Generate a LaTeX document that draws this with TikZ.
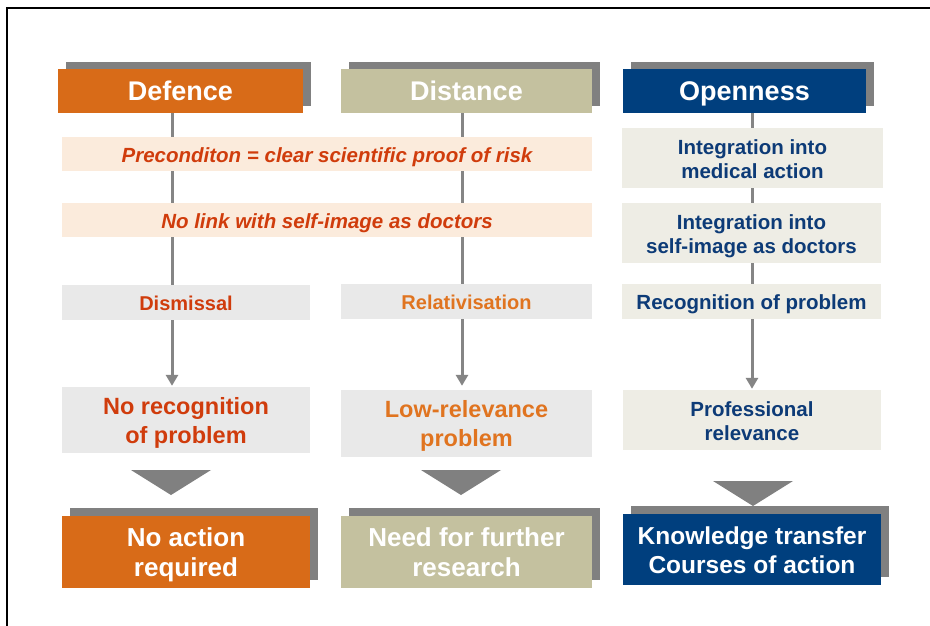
\documentclass[tikz,border=0pt]{standalone}
\usepackage{fontspec}
\setmainfont{Liberation Sans}
\usetikzlibrary{arrows.meta,calc,backgrounds}
\definecolor{cOr}{HTML}{D86B18}
\definecolor{cBe}{HTML}{C4C19F}
\definecolor{cBl}{HTML}{003F7E}
\definecolor{shgray}{HTML}{808080}
\definecolor{lngray}{HTML}{858585}
\definecolor{barOr}{HTML}{FBEBDC}
\definecolor{boxGr}{HTML}{E9E9E9}
\definecolor{boxBe}{HTML}{EEEDE5}
\definecolor{tRed}{HTML}{D03C0C}
\definecolor{tOr}{HTML}{E07420}
\definecolor{tBl}{HTML}{0D3B77}
% first-line strut (fixed height above baseline) and last-line depth strut
\newcommand\fl{\rule[-0.21em]{0pt}{\dimexpr0.94em+5.5pt\relax}}
\newcommand\ld{\rule[-0.21em]{0pt}{0.21em}}
\tikzset{
  hdbox/.style={inner sep=0pt, text=white, align=center, minimum height=44pt, font=\bfseries\fontsize{27}{30}\selectfont},
  endbox/.style={inner sep=0pt, text=white, align=center, font=\bfseries\fontsize{26}{30}\selectfont},
  barbox/.style={inner sep=0pt, fill=barOr, text=tRed, font=\bfseries\itshape\fontsize{20.5}{24}\selectfont, minimum width=530pt, minimum height=34pt},
  smbox/.style={inner sep=0pt, align=center, font=\bfseries\fontsize{20}{24}\selectfont},
  opbox/.style={inner sep=0pt, align=center, fill=boxBe, text=tBl, font=\bfseries\fontsize{20.5}{24}\selectfont},
  bigbox/.style={inner sep=0pt, align=center, font=\bfseries\fontsize{23.5}{29}\selectfont},
  conn/.style={draw=lngray, line width=3pt},
  arr/.style={draw=lngray, line width=3pt, -{Triangle[width=12pt,length=11pt]}},
}
\begin{document}
\begin{tikzpicture}[x=1pt,y=-1pt]
\useasboundingbox (0,0) rectangle (930,626);

% column axes
\coordinate (xA) at (172,0);
\coordinate (xB) at (462,0);
\coordinate (xC) at (752,0);

% header nodes
\node[hdbox, fill=cOr, minimum width=245pt] (hdA) at (180.5,91) {\fl Defence\ld};
\node[hdbox, fill=cBe, minimum width=251pt] (hdB) at (466.5,91) {\fl Distance\ld};
\node[hdbox, fill=cBl, minimum width=243pt] (hdC) at (744.5,91) {\fl Openness\ld};

% bars
\node[barbox] (pre) at (327,154) {\fl Preconditon = clear scientific proof of risk\ld};
\node[barbox] (nolink) at (327,220) {\fl No link with self-image as doctors\ld};

% openness column
\node[opbox, minimum width=261pt, minimum height=60pt] (int1) at (752.5,158) {\fl Integration into\\medical action\ld};
\node[opbox, minimum width=259pt, minimum height=60pt] (int2) at (751.5,233) {\fl Integration into\\self-image as doctors\ld};
\node[opbox, minimum width=259pt, minimum height=35pt] (recog) at (751.5,301.5) {\fl Recognition of problem\ld};

% middle boxes
\node[smbox, fill=boxGr, text=tRed, minimum width=248pt, minimum height=35pt] (dis) at (186,302.5) {\fl Dismissal\ld};
\node[smbox, fill=boxGr, text=tOr, minimum width=251pt, minimum height=35pt] (rel) at (466.5,301.5) {\fl Relativisation\ld};

\node[bigbox, fill=boxGr, text=tRed, minimum width=248pt, minimum height=66pt] (norec) at (186,420) {\fl No recognition\\of problem\ld};
\node[bigbox, fill=boxGr, text=tOr, minimum width=251pt, minimum height=67pt] (lowrel) at (466.5,423.5) {\fl Low-relevance\\problem\ld};
\node[opbox, minimum width=258pt, minimum height=60pt] (prof) at (752,420) {\fl Professional\\relevance\ld};

% connectors column A
\draw[conn] (xA |- hdA.south) -- (xA |- pre.north);
\draw[conn] (xA |- pre.south) -- (xA |- nolink.north);
\draw[conn] (xA |- nolink.south) -- (xA |- dis.north);
\draw[arr] (xA |- dis.south) -- ($(xA |- norec.north)+(0,-1)$);
% column B
\draw[conn] (xB |- hdB.south) -- (xB |- pre.north);
\draw[conn] (xB |- pre.south) -- (xB |- nolink.north);
\draw[conn] (xB |- nolink.south) -- (xB |- rel.north);
\draw[arr] (xB |- rel.south) -- ($(xB |- lowrel.north)+(0,-4)$);
% column C
\draw[conn] (xC |- hdC.south) -- (xC |- int1.north);
\draw[conn] (xC |- int1.south) -- (xC |- int2.north);
\draw[conn] (xC |- int2.south) -- (xC |- recog.north);
\draw[arr] (xC |- recog.south) -- ($(xC |- prof.north)+(0,-1)$);

% big triangles
\coordinate (tA) at (171,470);
\coordinate (tB) at (461,470);
\coordinate (tC) at (753,481);
\foreach \t in {tA,tB,tC}{
  \fill[shgray] ($(\t)+(-40,0)$) -- ($(\t)+(40,0)$) -- ($(\t)+(0,25)$) -- cycle;
}

% bottom boxes
\node[endbox, fill=cOr, minimum width=248pt, minimum height=72pt] (bA) at (186,552) {\fl No action\\required\ld};
\node[endbox, fill=cBe, minimum width=251pt, minimum height=72pt] (bB) at (466.5,552) {\fl Need for further\\research\ld};
\node[endbox, fill=cBl, minimum width=258pt, minimum height=71pt, font=\bfseries\fontsize{24.5}{29}\selectfont] (bC) at (752,549.5) {\fl Knowledge transfer\\Courses of action\ld};

% background: page, shadows
\begin{scope}[on background layer]
  \fill[white] (0,0) rectangle (930,626);
  \foreach \n in {hdA,hdB,hdC}{
    \fill[shgray] ($(\n.south west)+(8,-7)$) rectangle ($(\n.north east)+(8,-7)$);
  }
  \foreach \n in {bA,bB,bC}{
    \fill[shgray] ($(\n.south west)+(8,-8)$) rectangle ($(\n.north east)+(8,-8)$);
  }
\end{scope}

% frame
\draw[line width=1.8pt] (7,626) -- (7,8) -- (930,8);
\end{tikzpicture}
\end{document}
